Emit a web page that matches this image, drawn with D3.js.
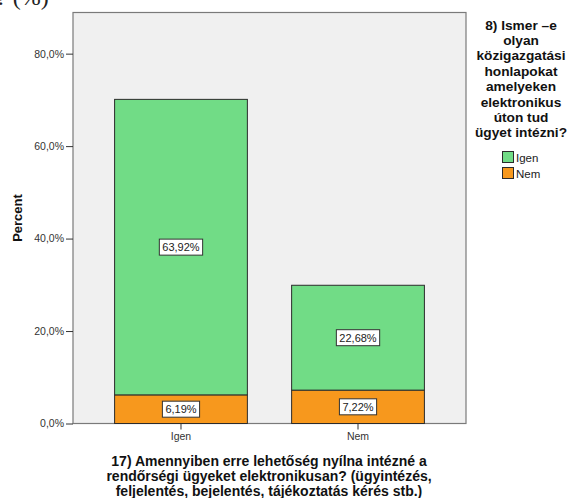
<!DOCTYPE html>
<html>
<head>
<meta charset="utf-8">
<script src="https://cdnjs.cloudflare.com/ajax/libs/d3/7.8.5/d3.min.js"></script>
<style>
  html, body { margin: 0; padding: 0; background: #fff; }
  svg { display: block; font-family: "Liberation Sans", Arial, sans-serif; }
</style>
</head>
<body>
<svg id="chart" width="574" height="498"></svg>
<script>
// Categories on the x axis (question 17)
const categories = ["Igen", "Nem"];
// Stack series (question 8) in stacking order, bottom first
const seriesNames = ["Nem", "Igen"];
const seriesColors = ["#f7981d", "#71dc86"];
// Percent of all respondents for each category, per series
const nemValues = [6.19, 7.22];
const igenValues = [63.92, 22.68];
const yTicks = [0, 20, 40, 60, 80];

const xTitleLines = [
  "17) Amennyiben erre lehetőség nyílna intézné a",
  "rendőrségi ügyeket elektronikusan? (ügyintézés,",
  "feljelentés, bejelentés, tájékoztatás kérés stb.)"
];
const legendTitleLines = [
  "8) Ismer \u2013e", "olyan", "közigazgatási", "honlapokat",
  "amelyeken", "elektronikus", "úton tud", "ügyet intézni?"
];

const svg = d3.select("#chart");
const plot = { left: 73, right: 466, top: 12.5, bottom: 423.5 };

const rows = categories.map((c, i) => ({ cat: c, Nem: nemValues[i], Igen: igenValues[i] }));
const stacked = d3.stack().keys(seriesNames)(rows);

const x = d3.scaleBand().domain(categories)
  .range([plot.left, plot.right]).paddingInner(0.25).paddingOuter(0.235);
const y = d3.scaleLinear().domain([0, 88.9]).range([plot.bottom, plot.top]);

// caption fragment running off the top edge
svg.append("text").attr("x", -4).attr("y", 5)
  .attr("font-family", "'Liberation Serif', 'DejaVu Serif', serif")
  .attr("font-size", 24).attr("fill", "#222").text("? (%)");

// plot background
svg.append("rect")
  .attr("x", plot.left).attr("y", plot.top)
  .attr("width", plot.right - plot.left).attr("height", plot.bottom - plot.top)
  .attr("fill", "#f0f0f0").attr("stroke", "#7a7a7a").attr("stroke-width", 1.2);

// stacked bars
const layer = svg.selectAll("g.layer").data(stacked).enter().append("g")
  .attr("class", "layer").attr("fill", (d, i) => seriesColors[i]);
layer.selectAll("rect").data(d => d).enter().append("rect")
  .attr("x", d => x(d.data.cat))
  .attr("y", d => y(d[1]))
  .attr("width", x.bandwidth())
  .attr("height", d => y(d[0]) - y(d[1]))
  .attr("stroke", "#2b2b2b").attr("stroke-width", 1);

// value labels in white boxes
const fmt = v => v.toFixed(2).replace(".", ",") + "%";
stacked.forEach(s => {
  s.forEach(d => {
    const v = d[1] - d[0];
    const cx = x(d.data.cat) + x.bandwidth() / 2;
    const cy = y((d[0] + d[1]) / 2);
    const g = svg.append("g");
    const t = g.append("text").attr("x", cx).attr("y", cy + 4)
      .attr("text-anchor", "middle").attr("font-size", 11).attr("fill", "#222")
      .text(fmt(v));
    const w = t.node().getComputedTextLength() + 6;
    g.insert("rect", "text").attr("x", cx - w / 2).attr("y", cy - 8)
      .attr("width", w).attr("height", 16)
      .attr("fill", "#fff").attr("stroke", "#333").attr("stroke-width", 1);
  });
});

// y axis
const yAxis = svg.append("g").attr("transform", `translate(${plot.left},0)`)
  .call(d3.axisLeft(y).tickValues(yTicks).tickSize(7).tickPadding(2)
    .tickFormat(d => d.toFixed(1).replace(".", ",") + "%"));
yAxis.select(".domain").remove();
yAxis.selectAll("line").attr("stroke", "#333");
yAxis.selectAll("text").attr("font-size", 10.5).attr("fill", "#333")
  .attr("font-family", "'Liberation Sans', Arial, sans-serif");

// x axis
const xAxis = svg.append("g").attr("transform", `translate(0,${plot.bottom})`)
  .call(d3.axisBottom(x).tickSize(6).tickPadding(3));
xAxis.select(".domain").remove();
xAxis.selectAll("line").attr("stroke", "#333");
xAxis.selectAll("text").attr("font-size", 10.5).attr("fill", "#333")
  .attr("font-family", "'Liberation Sans', Arial, sans-serif");

// axis titles
svg.append("text")
  .attr("transform", `translate(22,${(plot.top + plot.bottom) / 2}) rotate(-90)`)
  .attr("text-anchor", "middle").attr("font-size", 13).attr("font-weight", "bold")
  .attr("fill", "#111").text("Percent");

const xt = svg.append("text").attr("text-anchor", "middle")
  .attr("font-size", 14).attr("font-weight", "bold").attr("fill", "#111");
xTitleLines.forEach((l, i) => {
  xt.append("tspan").attr("x", 269).attr("y", 466 + i * 15).text(l);
});

// legend
const lt = svg.append("text").attr("text-anchor", "middle")
  .attr("font-size", 13.7).attr("font-weight", "bold").attr("fill", "#111");
legendTitleLines.forEach((l, i) => {
  lt.append("tspan").attr("x", 521).attr("y", 29.5 + i * 15.4).text(l);
});

const legendItems = ["Igen", "Nem"];
legendItems.forEach((name, i) => {
  const color = seriesColors[seriesNames.indexOf(name)];
  const gy = 151 + i * 16;
  svg.append("rect").attr("x", 502.5).attr("y", gy + 0.5).attr("width", 11).attr("height", 11)
    .attr("fill", color).attr("stroke", "#2b2b2b").attr("stroke-width", 1);
  svg.append("text").attr("x", 516).attr("y", gy + 10.5)
    .attr("font-size", 11.5).attr("fill", "#222").text(name);
});
</script>
</body>
</html>
